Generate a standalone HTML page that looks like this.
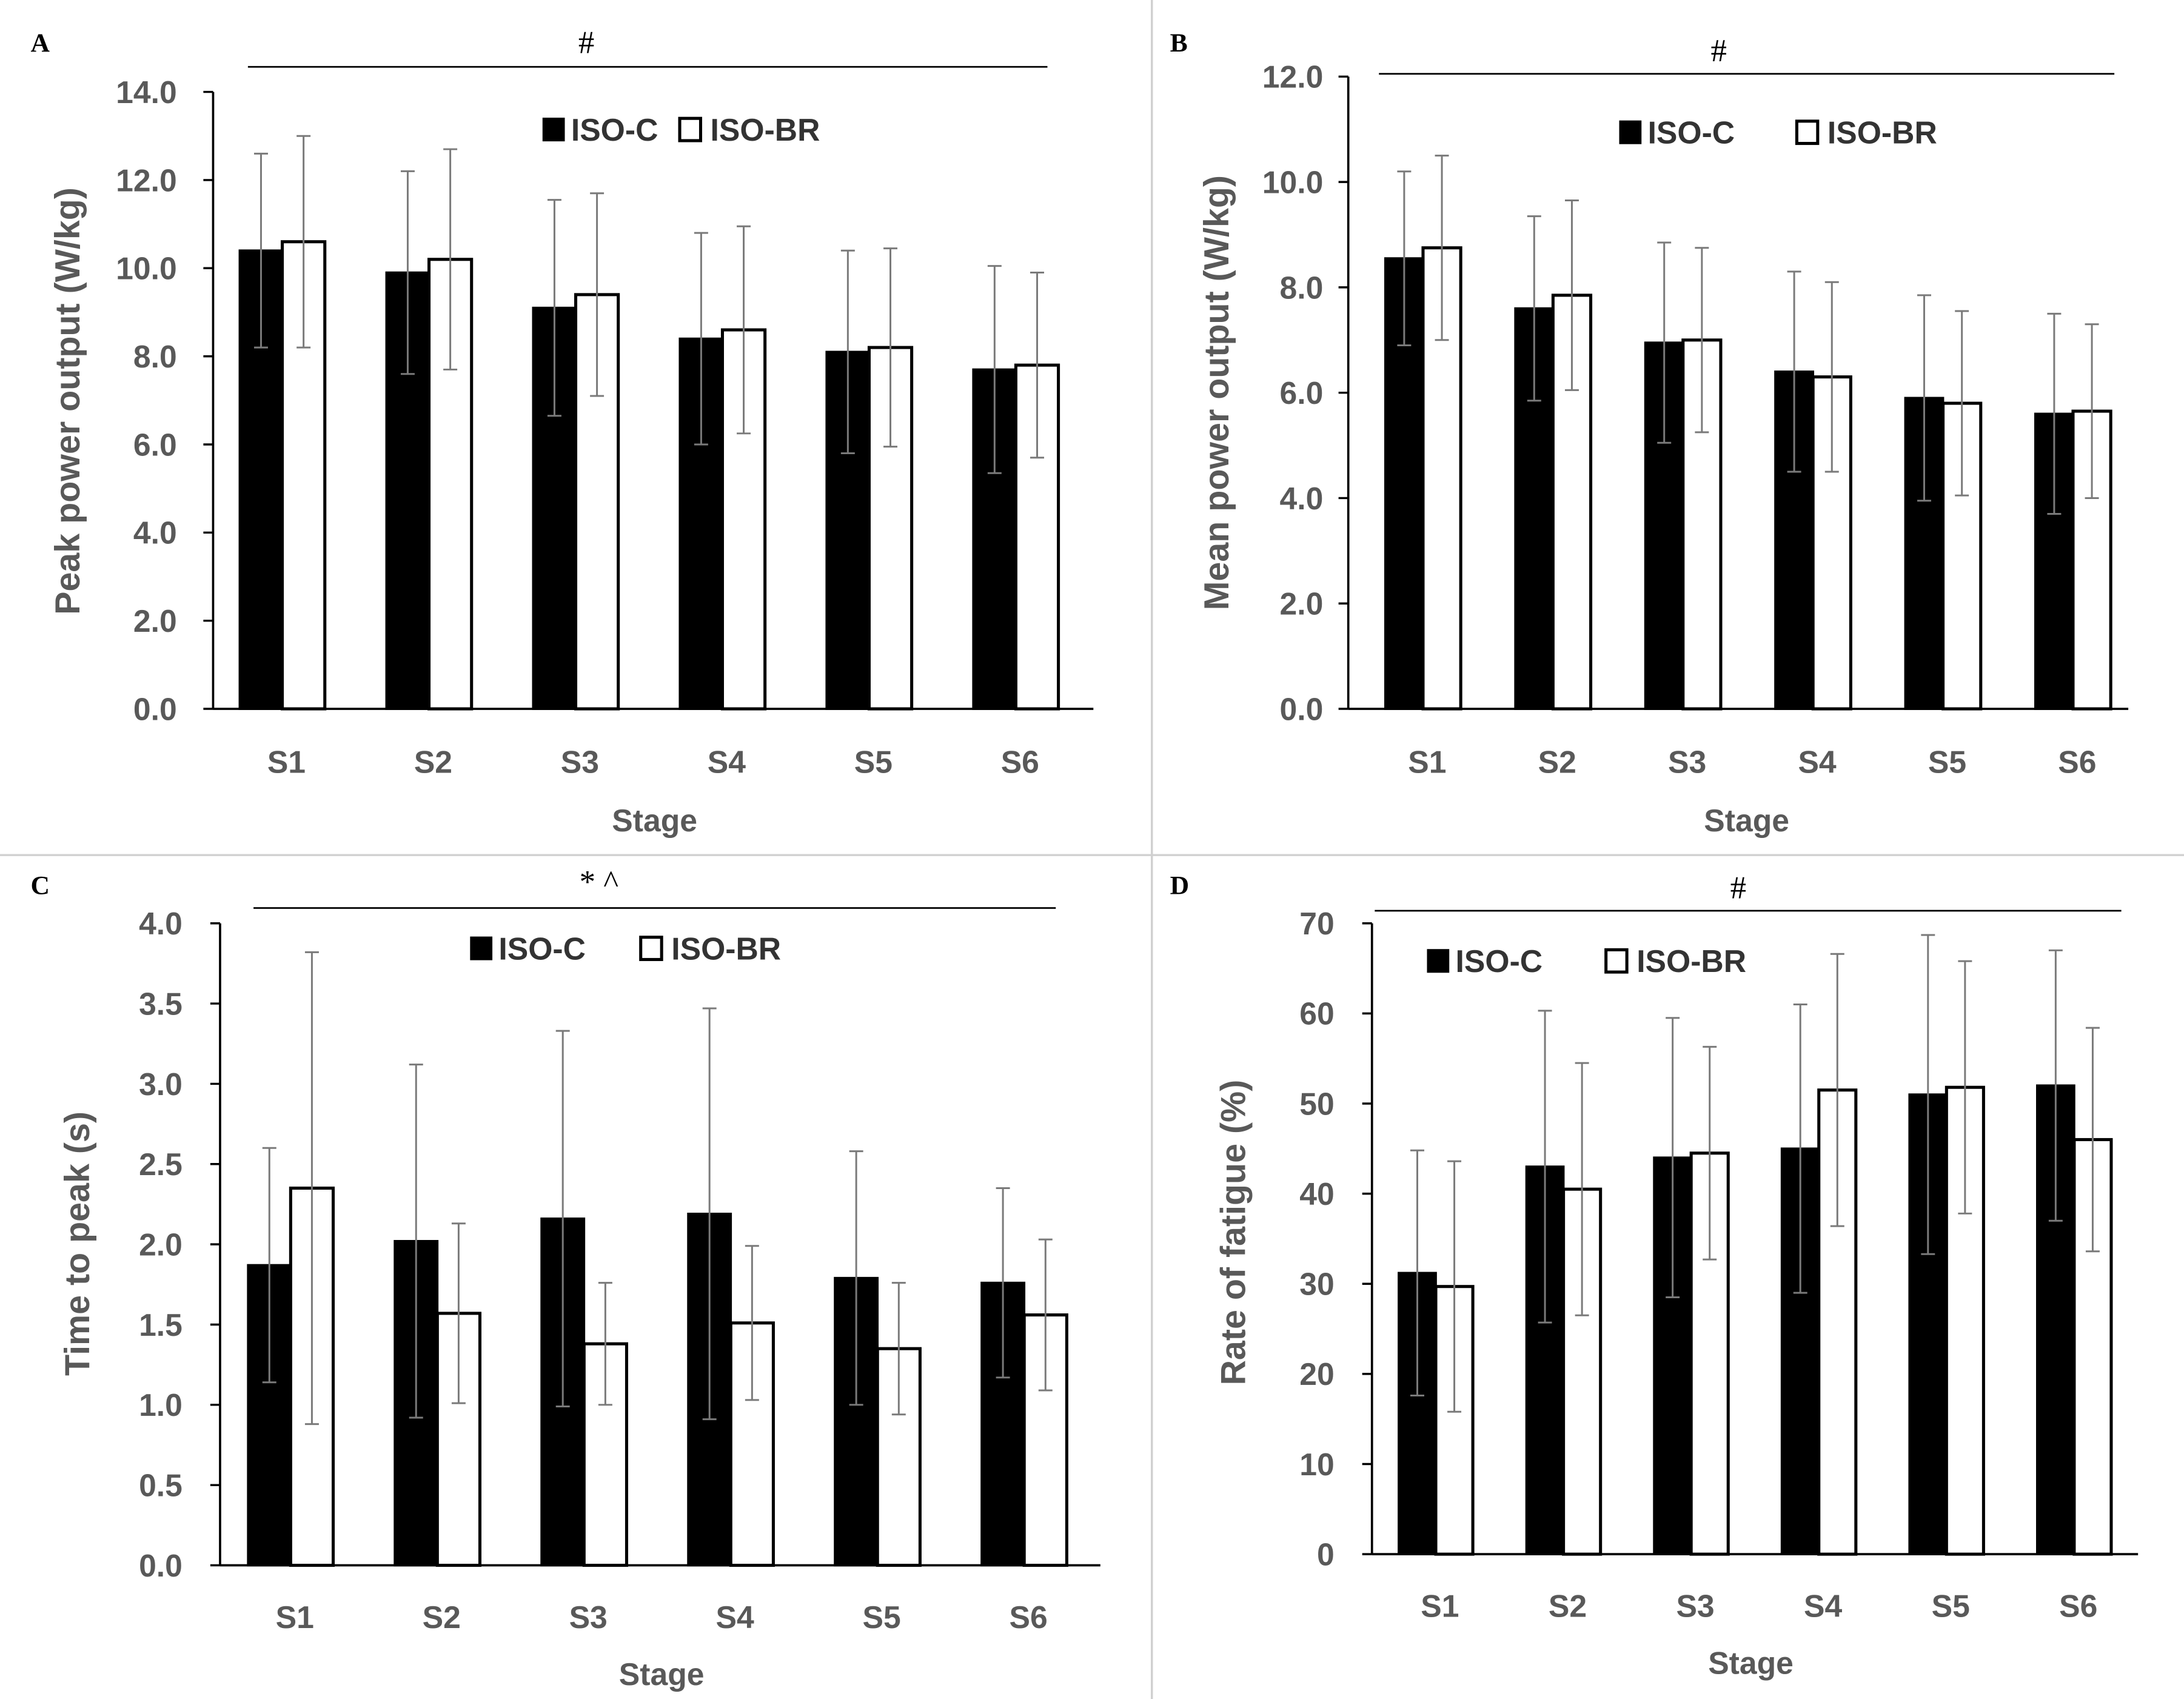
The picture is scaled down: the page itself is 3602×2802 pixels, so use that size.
<!DOCTYPE html>
<html><head><meta charset="utf-8"><style>
html,body{margin:0;padding:0;background:#fff;}
svg{display:block;}
</style></head><body>
<svg id="fig" width="3602" height="2802" viewBox="0 0 1568 1220" preserveAspectRatio="none" xmlns="http://www.w3.org/2000/svg" font-family="Liberation Sans, sans-serif">
<rect x="0" y="0" width="1568" height="1220" fill="#fff"/>
<line x1="827" y1="0" x2="827" y2="1220" stroke="#d0d0d0" stroke-width="1.5"/>
<line x1="0" y1="614" x2="1568" y2="614" stroke="#d0d0d0" stroke-width="1.5"/>
</svg>
<script>
const categories = ["S1","S2","S3","S4","S5","S6"];
const peakC = [10.4, 9.9, 9.1, 8.4, 8.1, 7.7];
const peakBR = [10.6, 10.2, 9.4, 8.6, 8.2, 7.8];
const peakCsd = [2.2, 2.3, 2.45, 2.4, 2.3, 2.35];
const peakBRsd = [2.4, 2.5, 2.3, 2.35, 2.25, 2.1];
const peakTicks = ["0.0","2.0","4.0","6.0","8.0","10.0","12.0","14.0"];
const meanC = [8.55, 7.6, 6.95, 6.4, 5.9, 5.6];
const meanBR = [8.75, 7.85, 7.0, 6.3, 5.8, 5.65];
const meanCsd = [1.65, 1.75, 1.9, 1.9, 1.95, 1.9];
const meanBRsd = [1.75, 1.8, 1.75, 1.8, 1.75, 1.65];
const meanTicks = ["0.0","2.0","4.0","6.0","8.0","10.0","12.0"];
const ttpC = [1.87, 2.02, 2.16, 2.19, 1.79, 1.76];
const ttpBR = [2.35, 1.57, 1.38, 1.51, 1.35, 1.56];
const ttpCsd = [0.73, 1.1, 1.17, 1.28, 0.79, 0.59];
const ttpBRsd = [1.47, 0.56, 0.38, 0.48, 0.41, 0.47];
const ttpTicks = ["0.0","0.5","1.0","1.5","2.0","2.5","3.0","3.5","4.0"];
const fatC = [31.2, 43, 44, 45, 51, 52];
const fatBR = [29.7, 40.5, 44.5, 51.5, 51.8, 46];
const fatCsd = [13.6, 17.3, 15.5, 16, 17.7, 15];
const fatBRsd = [13.9, 14, 11.8, 15.1, 14, 12.4];
const fatTicks = ["0","10","20","30","40","50","60","70"];

const NS = "http://www.w3.org/2000/svg";
const svg = document.getElementById('fig');
function mk(tag, attrs, parent){const e=document.createElementNS(NS,tag);for(const k in attrs)e.setAttribute(k,attrs[k]);(parent||svg).appendChild(e);return e;}
const SERIF = 'font-family:"Liberation Serif",serif';

const panels = [
 {id:"a",letter:"A",lx:22,ly:37,ax:153,x1:785,y0:509,yTop:66,max:14,ticks:peakTicks,c:peakC,br:peakBR,csd:peakCsd,brsd:peakBRsd,title:"Peak power output (W/kg)",tx:48,ty:288,labY:547,stageX:470,stageY:589,sig:"#",sigY:48,sx1:178,sx2:752,sigX:421,sigTY:38,legY:93,legB:390,legW:488,tickR:127,off:-3},
 {id:"b",letter:"B",lx:840,ly:37,ax:968,x1:1528,y0:509,yTop:55,max:12,ticks:meanTicks,c:meanC,br:meanBR,csd:meanCsd,brsd:meanBRsd,title:"Mean power output (W/kg)",tx:873,ty:282,labY:547,stageX:1254,stageY:589,sig:"#",sigY:53,sx1:990,sx2:1518,sigX:1234,sigTY:44,legY:95,legB:1163,legW:1290,tickR:950,off:7},
 {id:"c",letter:"C",lx:22,ly:642,ax:158,x1:790,y0:1124,yTop:663,max:4,ticks:ttpTicks,c:ttpC,br:ttpBR,csd:ttpCsd,brsd:ttpBRsd,title:"Time to peak (s)",tx:55,ty:893,labY:1161,stageX:475,stageY:1202,sig:"* ^",sigY:652,sx1:182,sx2:758,sigX:430,sigTY:641,legY:681,legB:338,legW:460,tickR:131,off:-2},
 {id:"d",letter:"D",lx:840,ly:642,ax:985,x1:1535,y0:1116,yTop:663,max:70,ticks:fatTicks,c:fatC,br:fatBR,csd:fatCsd,brsd:fatBRsd,title:"Rate of fatigue (%)",tx:885,ty:885,labY:1153,stageX:1257,stageY:1194,sig:"#",sigY:654,sx1:987,sx2:1523,sigX:1248,sigTY:645,legY:690,legB:1025,legW:1153,tickR:958,off:0}
];

panels.forEach(p=>{
  const g = mk('g',{});
  
  
  const y = v => p.y0 - (v/p.max)*(p.y0-p.yTop);
  const band = (p.x1-p.ax)/categories.length;
  const cx = i => p.ax + band*(i+0.5) + p.off;
  const bw = band*0.29;
  let t;
  t = mk('text',{x:p.lx,y:p.ly,style:SERIF,'font-weight':'bold','font-size':19,fill:'#000'},g); t.textContent=p.letter;
   
  let l = mk('line',{x1:p.sx1,x2:p.sx2,y1:p.sigY,y2:p.sigY,stroke:'#000','stroke-width':1.2},g);
   
  t = mk('text',{x:p.sigX,y:p.sigTY,'text-anchor':'middle',style:SERIF,'font-size':23,fill:'#000'},g); t.textContent=p.sig;
   
  p.ticks.forEach((lab,i)=>{
    const v = p.max*i/(p.ticks.length-1);
    const tk = mk('line',{x1:p.ax-7,x2:p.ax,y1:y(v),y2:y(v),stroke:'#000','stroke-width':1.5},g);
     
    const tl = mk('text',{x:p.tickR,y:y(v)+8,'text-anchor':'end','font-size':22.5,'font-weight':'bold',fill:'#595959'},g); tl.textContent=lab;
     
  });
  categories.forEach((cat,i)=>{
    const c = cx(i);
    const bc = mk('rect',{x:c-bw,y:y(p.c[i]),width:bw,height:p.y0-y(p.c[i]),fill:'#000',stroke:'#000','stroke-width':1.6},g);
     
    const bb = mk('rect',{x:c,y:y(p.br[i]),width:bw,height:p.y0-y(p.br[i]),fill:'#fff',stroke:'#000','stroke-width':2.2},g);
     
    [[c-bw/2,p.c[i],p.csd[i],'iso-c'],[c+bw/2,p.br[i],p.brsd[i],'iso-br']].forEach(([ex,v,sd,s])=>{
      const eg = mk('g',{stroke:'#7a7a7a','stroke-width':1.3},g);
       
      mk('line',{x1:ex,x2:ex,y1:y(v+sd),y2:y(v-sd)},eg);
      mk('line',{x1:ex-5,x2:ex+5,y1:y(v+sd),y2:y(v+sd)},eg);
      mk('line',{x1:ex-5,x2:ex+5,y1:y(v-sd),y2:y(v-sd)},eg);
    });
    const xl = mk('text',{x:c+3,y:p.labY+8,'text-anchor':'middle','font-size':22.5,'font-weight':'bold',fill:'#595959'},g); xl.textContent=cat;
     
  });
  l = mk('line',{x1:p.ax,x2:p.ax,y1:p.yTop,y2:p.y0,stroke:'#000','stroke-width':1.6},g);
   
  l = mk('line',{x1:p.ax,x2:p.x1,y1:p.y0,y2:p.y0,stroke:'#000','stroke-width':1.6},g);
   
  t = mk('text',{x:p.tx,y:p.ty,'text-anchor':'middle','font-size':25,'font-weight':'bold',fill:'#595959',transform:`rotate(-90 ${p.tx} ${p.ty})`,dy:9},g); t.textContent=p.title;
   
  t = mk('text',{x:p.stageX,y:p.stageY+8,'text-anchor':'middle','font-size':22.5,'font-weight':'bold',fill:'#595959'},g); t.textContent='Stage';
   
  const lg = mk('g',{},g);  
  const e1 = mk('g',{},lg);  
  mk('rect',{x:p.legB,y:p.legY-8,width:15,height:16,fill:'#000',stroke:'#000','stroke-width':1},e1);
  t = mk('text',{x:p.legB+20,y:p.legY+8,'font-size':22.5,'font-weight':'bold',fill:'#333'},e1); t.textContent='ISO-C';
  const e2 = mk('g',{},lg);  
  mk('rect',{x:p.legW,y:p.legY-8,width:15,height:16,fill:'#fff',stroke:'#000','stroke-width':2.2},e2);
  t = mk('text',{x:p.legW+22,y:p.legY+8,'font-size':22.5,'font-weight':'bold',fill:'#333'},e2); t.textContent='ISO-BR';
});
</script>
</body></html>
